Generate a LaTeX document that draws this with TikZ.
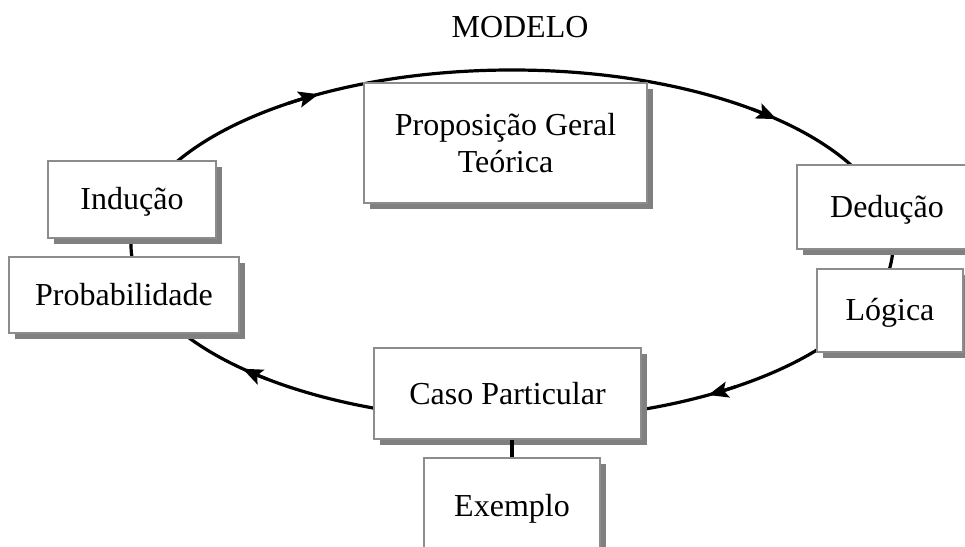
\documentclass[tikz,border=0pt]{standalone}
\usepackage{fontspec}
\setmainfont{Liberation Serif}
\usetikzlibrary{shadows,arrows.meta}
\definecolor{boxgray}{gray}{0.55}
\definecolor{shadowgray}{gray}{0.5}
\begin{document}
\begin{tikzpicture}[x=1pt,y=1pt,
  box/.style={draw=boxgray, line width=1.5pt, fill=white, inner sep=0pt, align=center,
    font=\fontsize{32}{37}\selectfont,
    drop shadow={shadow xshift=6pt, shadow yshift=-6pt, fill=shadowgray, opacity=1}},
  onebox/.style={box, text height=21pt, text depth=0pt},
  ring/.style={line width=3.2pt, black},
  tiparrow/.style={ring, -{Stealth[length=20pt,width=16pt,inset=4pt]}}
]
\useasboundingbox (0,0) rectangle (965,546);
\clip (0,0) rectangle (965,546);
\fill[white] (0,0) rectangle (965,546);

% cycle
\draw[ring] (512,301) ellipse [x radius=381pt, y radius=175pt];
\draw[tiparrow] ([shift={(512,301)}]126:381pt and 175pt) arc[start angle=126, end angle=120.5, x radius=381pt, y radius=175pt];
\draw[tiparrow] ([shift={(512,301)}]51:381pt and 175pt) arc[start angle=51, end angle=46, x radius=381pt, y radius=175pt];
\draw[tiparrow] ([shift={(512,301)}]-54:381pt and 175pt) arc[start angle=-54, end angle=-59, x radius=381pt, y radius=175pt];
\draw[tiparrow] ([shift={(512,301)}]-130:381pt and 175pt) arc[start angle=-130, end angle=-135, x radius=381pt, y radius=175pt];

% title
\node[font=\fontsize{32}{37}\selectfont, anchor=base, inner sep=0pt] (title) at (520,508) {MODELO};

% boxes
\node[box, minimum width=283pt, minimum height=120pt] (prop) at (505.5,403) {Proposição Geral\\Teórica};
\node[onebox, minimum width=168pt, minimum height=77pt] (inducao) at (132,346.5) {Indução};
\node[onebox, minimum width=180pt, minimum height=84pt] (deducao) at (887,339) {Dedução};
\node[onebox, minimum width=230pt, minimum height=76pt] (prob) at (124,251) {Probabilidade};
\node[onebox, minimum width=146pt, minimum height=83pt] (logica) at (890,235.5) {Lógica};
\node[onebox, minimum width=267pt, minimum height=91pt] (caso) at (507.5,152.5) {Caso Particular};
\node[onebox, minimum width=176pt, minimum height=96pt] (exemplo) at (512,40) {Exemplo};

\draw[ring] (exemplo.north |- caso.south) -- (exemplo.north);
\end{tikzpicture}
\end{document}
